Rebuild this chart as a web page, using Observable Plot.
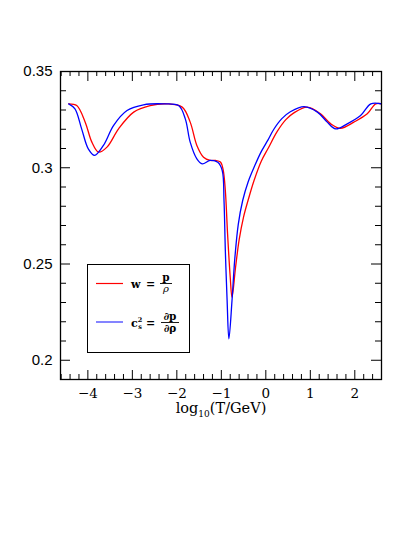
<!DOCTYPE html>
<html><head><meta charset="utf-8">
<script src="https://cdn.jsdelivr.net/npm/d3@7"></script>
<script src="https://cdn.jsdelivr.net/npm/@observablehq/plot@0.6"></script>
<style>
body{margin:0;background:#fff}
#wrap{position:relative;width:415px;height:537px;overflow:hidden}
#xlab{position:absolute;left:0;width:415px;top:400px;text-align:center;font-family:"DejaVu Serif",serif;font-size:14.5px;color:#000;padding-left:27px;box-sizing:border-box}
#xlab sub{font-size:9px}
#legend{position:absolute;left:0;top:0}
</style>
</head><body>
<div id="wrap"><div id="xlab">log<sub>10</sub>(T/GeV)</div></div>
<script>
// w = p/rho  (red)
const logT_w = [-4.43,-4.25,-4.06,-3.91,-3.76,-3.57,-3.31,-2.97,-2.60,-2.22,-1.88,-1.70,-1.55,-1.40,-1.25,-1.13,-1.02,-0.96,-0.91,-0.86,-0.80,-0.76,-0.68,-0.60,-0.50,-0.40,-0.27,-0.10,0.05,0.26,0.45,0.63,0.93,1.23,1.46,1.68,1.98,2.28,2.47,2.60];
const w =      [0.3332,0.3323,0.3237,0.3133,0.3081,0.3107,0.3202,0.3289,0.3323,0.3332,0.3315,0.3237,0.3116,0.3055,0.3038,0.3038,0.3030,0.2990,0.2882,0.2657,0.2431,0.2327,0.2483,0.2625,0.2745,0.2830,0.2930,0.3035,0.3100,0.3190,0.3250,0.3285,0.3315,0.3280,0.3228,0.3205,0.3237,0.3280,0.3332,0.3332];
// c_s^2 = dp/drho (blue)
const logT_cs2 = [-4.43,-4.29,-4.14,-3.99,-3.85,-3.65,-3.42,-3.12,-2.75,-2.30,-1.96,-1.81,-1.70,-1.55,-1.43,-1.25,-1.08,-0.98,-0.94,-0.91,-0.87,-0.83,-0.76,-0.70,-0.62,-0.52,-0.40,-0.25,-0.10,0.05,0.18,0.36,0.56,0.86,1.16,1.38,1.57,1.83,2.13,2.36,2.60];
const cs2 =      [0.3332,0.3306,0.3202,0.3098,0.3064,0.3116,0.3220,0.3297,0.3327,0.3332,0.3323,0.3254,0.3133,0.3046,0.3020,0.3038,0.3028,0.2986,0.2830,0.2570,0.2310,0.2111,0.2310,0.2520,0.2705,0.2830,0.2925,0.3010,0.3085,0.3145,0.3200,0.3255,0.3292,0.3318,0.3289,0.3237,0.3202,0.3228,0.3271,0.3332,0.3332];

const xMajor = [-4,-3,-2,-1,0,1,2];
const xMinor = [-4.6,-4.4,-4.2,-3.8,-3.6,-3.4,-3.2,-2.8,-2.6,-2.4,-2.2,-1.8,-1.6,-1.4,-1.2,-0.8,-0.6,-0.4,-0.2,0.2,0.4,0.6,0.8,1.2,1.4,1.6,1.8,2.2,2.4,2.6];
const yMajor = [0.2,0.25,0.3,0.35];
const yMinor = [0.19,0.21,0.22,0.23,0.24,0.26,0.27,0.28,0.29,0.31,0.32,0.33,0.34];
const yLabels = ["0.2","0.25","0.3","0.35"];
const legendLabels = ["w", "c"];

const W = 415, H = 537, mL = 60, mR = 34, mT = 71, mB = 158;
const iw = W - mL - mR, ih = H - mT - mB;

const red = logT_w.map((t,i)=>({t, v:w[i]}));
const blue = logT_cs2.map((t,i)=>({t, v:cs2[i]}));

const chart = Plot.plot({
  width: W, height: H,
  marginLeft: mL, marginRight: mR, marginTop: mT, marginBottom: mB,
  x: {domain: [-4.615, 2.6]},
  y: {domain: [0.19, 0.35]},
  style: {background: "#fff"},
  marks: [
    Plot.line(red, {x:"t", y:"v", stroke:"#ff0000", strokeWidth:1.3, curve:"catmull-rom", clip:true}),
    Plot.line(blue, {x:"t", y:"v", stroke:"#0000ff", strokeWidth:1.3, curve:"catmull-rom", clip:true}),
    // inward ticks
    Plot.tickX(xMajor, {x: d=>d, insetTop: ih-9, stroke:"#000", strokeWidth:1}),
    Plot.tickX(xMinor, {x: d=>d, insetTop: ih-5, stroke:"#000", strokeWidth:1}),
    Plot.tickX(xMajor, {x: d=>d, insetBottom: ih-10, stroke:"#000", strokeWidth:1}),
    Plot.tickX(xMinor, {x: d=>d, insetBottom: ih-5, stroke:"#000", strokeWidth:1}),
    Plot.tickY(yMajor, {y: d=>d, insetRight: iw-10, stroke:"#000", strokeWidth:1}),
    Plot.tickY(yMinor, {y: d=>d, insetRight: iw-6, stroke:"#000", strokeWidth:1}),
    Plot.tickY(yMajor, {y: d=>d, insetLeft: iw-10, stroke:"#000", strokeWidth:1}),
    Plot.tickY(yMinor, {y: d=>d, insetLeft: iw-6, stroke:"#000", strokeWidth:1}),
    Plot.axisX(xMajor, {anchor:"bottom", tickSize:0, tickPadding:9, label:null,
      tickFormat: d => d < 0 ? "\u2212" + Math.abs(d) : String(d),
      fontFamily:"DejaVu Serif", fontSize:13.5, fill:"#000"}),
    Plot.axisY(yMajor, {anchor:"left", tickSize:0, tickPadding:8, label:null,
      tickFormat: (d,i) => yLabels[yMajor.indexOf(d)],
      fontFamily:"Liberation Sans", fontSize:15, fill:"#000"}),
    Plot.frame({stroke:"#000", strokeWidth:1.3})
  ]
});
document.getElementById("wrap").appendChild(chart);

// legend overlay
const lg = d3.select("#wrap").append("svg").attr("id","legend").attr("width",W).attr("height",H)
  .style("font-family","DejaVu Serif, serif");
lg.append("rect").attr("x",87.5).attr("y",264.5).attr("width",102).attr("height",88)
  .attr("fill","none").attr("stroke","#000").attr("stroke-width",1);
lg.append("line").attr("x1",96).attr("x2",123).attr("y1",283.5).attr("y2",283.5).attr("stroke","#ff0000").attr("stroke-width",1.2);
lg.append("line").attr("x1",96).attr("x2",123).attr("y1",322).attr("y2",322).attr("stroke","#3333ff").attr("stroke-width",1.2);
// row 1: w = p / rho
lg.append("text").attr("x",131).attr("y",288).attr("font-size",11).attr("font-weight","bold").text(legendLabels[0]);
lg.append("text").attr("x",146).attr("y",288).attr("font-size",11).attr("font-weight","bold").text("=");
lg.append("text").attr("x",166).attr("y",281).attr("font-size",10.5).attr("font-weight","bold").attr("text-anchor","middle").text("p");
lg.append("line").attr("x1",160).attr("x2",172).attr("y1",283.5).attr("y2",283.5).attr("stroke","#000").attr("stroke-width",0.9);
lg.append("text").attr("x",166).attr("y",292).attr("font-size",10).attr("font-style","italic").attr("text-anchor","middle").text("\u03C1");
// row 2: c_s^2 = dp / drho
const t2 = lg.append("text").attr("x",131).attr("y",326.5).attr("font-size",11).attr("font-weight","bold");
t2.append("tspan").text(legendLabels[1]);
t2.append("tspan").attr("font-size",6.5).attr("dy",-4.5).text("2");
t2.append("tspan").attr("font-size",6.5).attr("dx",-4).attr("dy",7).text("s");
lg.append("text").attr("x",146).attr("y",326.5).attr("font-size",11).attr("font-weight","bold").text("=");
lg.append("text").attr("x",170).attr("y",320).attr("font-size",10.5).attr("font-weight","bold").attr("text-anchor","middle").text("\u2202p");
lg.append("line").attr("x1",161).attr("x2",179).attr("y1",322.5).attr("y2",322.5).attr("stroke","#000").attr("stroke-width",0.9);
lg.append("text").attr("x",170).attr("y",331.5).attr("font-size",10.5).attr("font-weight","bold").attr("text-anchor","middle").text("\u2202\u03C1");
</script>
</body></html>
